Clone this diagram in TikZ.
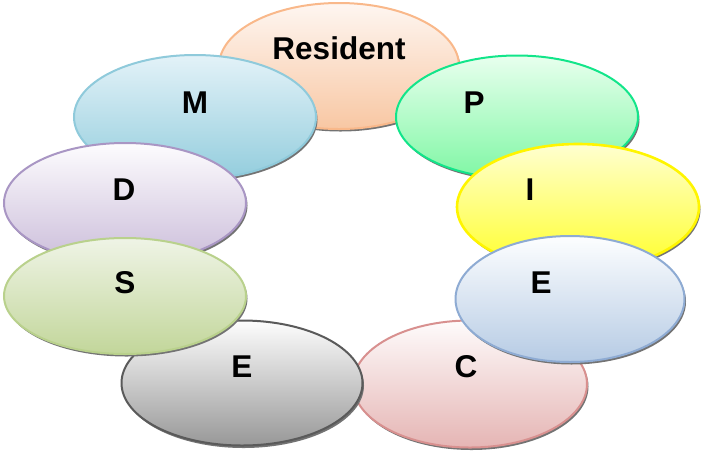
\documentclass[tikz,border=0pt]{standalone}
\usepackage{fontspec}
\setmainfont{Liberation Sans}
\usetikzlibrary{shapes.geometric,shadows}

% fill gradients (top / bottom) and outline colours
\definecolor{resTop}{HTML}{FEF6F1}\definecolor{resBot}{HTML}{F8C7A3}\definecolor{resLine}{HTML}{F9B88A}
\definecolor{mTop}{HTML}{E3F2F8}\definecolor{mBot}{HTML}{93CDDD}\definecolor{mLine}{HTML}{8FCADB}
\definecolor{pTop}{HTML}{E8FFEE}\definecolor{pBot}{HTML}{7FF7A4}\definecolor{pLine}{HTML}{12E58A}
\definecolor{dTop}{HTML}{FDFCFE}\definecolor{dBot}{HTML}{CBBDDA}\definecolor{dLine}{HTML}{A996C4}
\definecolor{iTop}{HTML}{FFFFD0}\definecolor{iBot}{HTML}{FFFF2A}\definecolor{iLine}{HTML}{FFF500}
\definecolor{sTop}{HTML}{EFF4E6}\definecolor{sBot}{HTML}{C2D69A}\definecolor{sLine}{HTML}{B9D18C}
\definecolor{erTop}{HTML}{FDFEFF}\definecolor{erBot}{HTML}{B6CBE4}\definecolor{erLine}{HTML}{8EABD3}
\definecolor{elTop}{HTML}{FDFDFD}\definecolor{elBot}{HTML}{989898}\definecolor{elLine}{HTML}{5A5A5A}
\definecolor{cTop}{HTML}{FEFBFB}\definecolor{cBot}{HTML}{E5B5B4}\definecolor{cLine}{HTML}{D8908F}

\tikzset{
  petal/.style n args={3}{ellipse, inner sep=0pt, line width=2pt,
    top color=#1, bottom color=#2, draw=#3,
    drop shadow={shadow xshift=1.5pt, shadow yshift=-2.5pt, fill=black!55, opacity=1}},
  lbl/.style={inner sep=0pt, font=\fontsize{31.5}{36}\selectfont\bfseries}
}

\begin{document}
\begin{tikzpicture}[x=1pt,y=-1pt]
  \useasboundingbox (0,0) rectangle (701,451);

  % petals, back to front
  \node[petal={resTop}{resBot}{resLine}, minimum width=240pt, minimum height=126pt] (res) at (339,66) {};
  \node[petal={pTop}{pBot}{pLine}, minimum width=242pt, minimum height=123pt] (p) at (517,117) {};
  \node[petal={iTop}{iBot}{iLine}, minimum width=242pt, minimum height=126pt, line width=2.6pt] (i) at (578,207) {};
  \node[petal={cTop}{cBot}{cLine}, minimum width=234pt, minimum height=127pt] (c) at (470,384) {};
  \node[petal={erTop}{erBot}{erLine}, minimum width=229pt, minimum height=126pt] (er) at (570,299) {};
  \node[petal={mTop}{mBot}{mLine}, minimum width=242pt, minimum height=124pt] (m) at (195,117) {};
  \node[petal={dTop}{dBot}{dLine}, minimum width=242pt, minimum height=120pt] (d) at (125,203) {};
  \node[petal={elTop}{elBot}{elLine}, minimum width=241pt, minimum height=125pt] (el) at (242,383) {};
  \node[petal={sTop}{sBot}{sLine}, minimum width=242pt, minimum height=116pt] (s) at (125,296) {};

  % labels
  \node[lbl] (tres) at (339,48) {Resident};
  \node[lbl] (tm) at (195,103) {M};
  \node[lbl] (tp) at (474,103) {P};
  \node[lbl] (td) at (124,190) {D};
  \node[lbl] (ti) at (530,190) {I};
  \node[lbl] (ts) at (125,283) {S};
  \node[lbl] (ter) at (541,283) {E};
  \node[lbl] (tel) at (242,367) {E};
  \node[lbl] (tc) at (466,367) {C};
\end{tikzpicture}
\end{document}
